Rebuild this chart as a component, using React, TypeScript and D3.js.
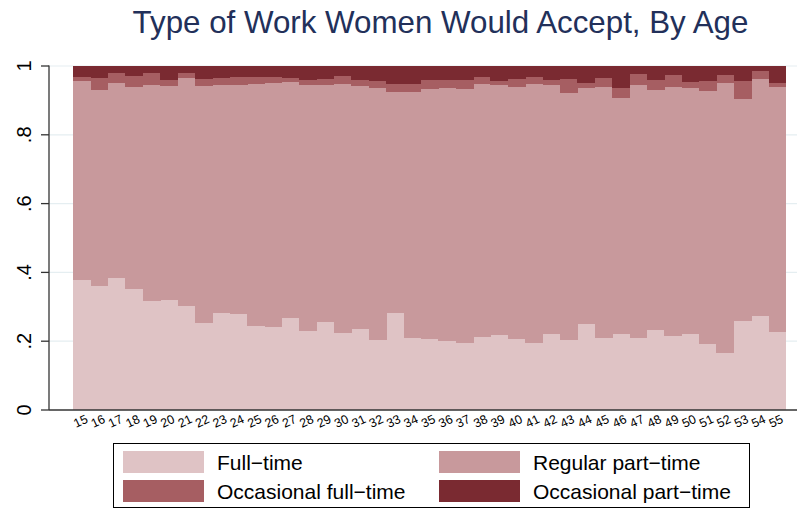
import React from "react";
import * as d3 from "d3";

const ages: number[] = d3.range(15, 56);
const fullTime: number[] = [
  0.379, 0.362, 0.385, 0.352, 0.318, 0.322, 0.302, 0.253, 0.282, 0.279,
  0.246, 0.241, 0.267, 0.230, 0.256, 0.226, 0.237, 0.203, 0.283, 0.210,
  0.206, 0.202, 0.196, 0.213, 0.218, 0.207, 0.196, 0.221, 0.203, 0.250,
  0.211, 0.221, 0.209, 0.234, 0.217, 0.221, 0.194, 0.168, 0.259, 0.273,
  0.227,
];
const regularPartTime: number[] = [
  0.577, 0.570, 0.567, 0.588, 0.629, 0.620, 0.665, 0.689, 0.663, 0.668,
  0.702, 0.710, 0.687, 0.717, 0.689, 0.724, 0.705, 0.735, 0.641, 0.714,
  0.729, 0.736, 0.739, 0.735, 0.727, 0.734, 0.754, 0.724, 0.719, 0.686,
  0.730, 0.686, 0.736, 0.698, 0.722, 0.717, 0.734, 0.783, 0.646, 0.691,
  0.714,
];
const occFullTime: number[] = [
  0.012, 0.034, 0.029, 0.032, 0.034, 0.017, 0.014, 0.022, 0.021, 0.022,
  0.022, 0.017, 0.012, 0.012, 0.019, 0.021, 0.019, 0.018, 0.024, 0.026,
  0.024, 0.023, 0.026, 0.020, 0.013, 0.022, 0.018, 0.016, 0.040, 0.016,
  0.024, 0.029, 0.032, 0.027, 0.037, 0.015, 0.028, 0.023, 0.052, 0.022,
  0.011,
];
const occPartTime: number[] = ages.map(
  (_, i) => 1 - fullTime[i] - regularPartTime[i] - occFullTime[i]
);

const seriesNames = [
  "Full\u2212time",
  "Regular part\u2212time",
  "Occasional full\u2212time",
  "Occasional part\u2212time",
];
const seriesColors = ["#dfc3c5", "#c8999c", "#a65e62", "#7a2a31"];
const yTicks = [0, 0.2, 0.4, 0.6, 0.8, 1];
const yTickLabels = ["0", ".2", ".4", ".6", ".8", "1"];
const title = "Type of Work Women Would Accept, By Age";

const FONT = "'Liberation Sans', Arial, Helvetica, sans-serif";

export default function App() {
  const W = 803;
  const H = 514;
  const axisX = 49;
  const axisRight = 797;
  const x = d3
    .scaleBand<number>()
    .domain(ages)
    .range([73.3, 786])
    .paddingInner(0)
    .paddingOuter(0);
  const y = d3.scaleLinear().domain([0, 1]).range([410, 66]);

  const rows = ages.map((a, i) => ({
    age: a,
    s0: fullTime[i],
    s1: regularPartTime[i],
    s2: occFullTime[i],
    s3: occPartTime[i],
  }));
  const stack = d3.stack<any>().keys(["s0", "s1", "s2", "s3"]);
  const layers = stack(rows);

  const legendItems = [
    { name: seriesNames[0], color: seriesColors[0], col: 0, row: 0 },
    { name: seriesNames[1], color: seriesColors[1], col: 1, row: 0 },
    { name: seriesNames[2], color: seriesColors[2], col: 0, row: 1 },
    { name: seriesNames[3], color: seriesColors[3], col: 1, row: 1 },
  ];
  const colX = [123, 439];
  const rowY = [451, 480];

  return (
    <svg
      width={W}
      height={H}
      style={{ position: "absolute", left: 0, top: 0, background: "#fff" }}
      fontFamily={FONT}
    >
      <rect x={0} y={0} width={W} height={H} fill="#fff" />
      <text x={440.5} y={33} textAnchor="middle" fontSize={31.3} fill="#22305a">
        {title}
      </text>

      {/* gridlines */}
      {yTicks.slice(1).map((t) => (
        <line
          key={"g" + t}
          x1={axisX}
          x2={axisRight}
          y1={y(t)}
          y2={y(t)}
          stroke="#e5eef1"
          strokeWidth={1.2}
        />
      ))}

      {/* bars */}
      {layers.map((layer, li) => (
        <g key={"l" + li} fill={seriesColors[li]}>
          {layer.map((d: any, i: number) => (
            <rect
              key={i}
              x={x(ages[i])!}
              width={x.bandwidth() + 0.4}
              y={y(d[1])}
              height={y(d[0]) - y(d[1]) + 0.3}
              shapeRendering="crispEdges"
            />
          ))}
        </g>
      ))}

      {/* y axis */}
      <line x1={axisX} x2={axisX} y1={y(1) - 0.5} y2={y(0)} stroke="#333" strokeWidth={1.3} />
      {yTicks.map((t, i) => (
        <g key={"yt" + t}>
          <line x1={axisX - 8} x2={axisX} y1={y(t)} y2={y(t)} stroke="#333" strokeWidth={1.3} />
          <text
            transform={`translate(31,${y(t)}) rotate(-90)`}
            textAnchor="middle"
            fontSize={20}
            fill="#000"
          >
            {yTickLabels[i]}
          </text>
        </g>
      ))}

      {/* x axis */}
      <line x1={axisX} x2={axisRight} y1={y(0)} y2={y(0)} stroke="#333" strokeWidth={1.3} />
      {ages.map((a) => (
        <text
          key={"xt" + a}
          transform={`translate(${x(a)! + x.bandwidth() / 2 - 1},${422}) rotate(-25)`}
          textAnchor="middle"
          dominantBaseline="middle"
          fontSize={12.5}
          fill="#000"
        >
          {a}
        </text>
      ))}

      {/* legend */}
      <rect x={113.5} y={443.5} width={636} height={64} fill="#fff" stroke="#000" strokeWidth={1} />
      {legendItems.map((it) => (
        <g key={it.name}>
          <rect x={colX[it.col]} y={rowY[it.row]} width={81} height={22} fill={it.color} />
          <text x={colX[it.col] + 94} y={rowY[it.row] + 18.5} fontSize={21} fill="#000">
            {it.name}
          </text>
        </g>
      ))}
    </svg>
  );
}
